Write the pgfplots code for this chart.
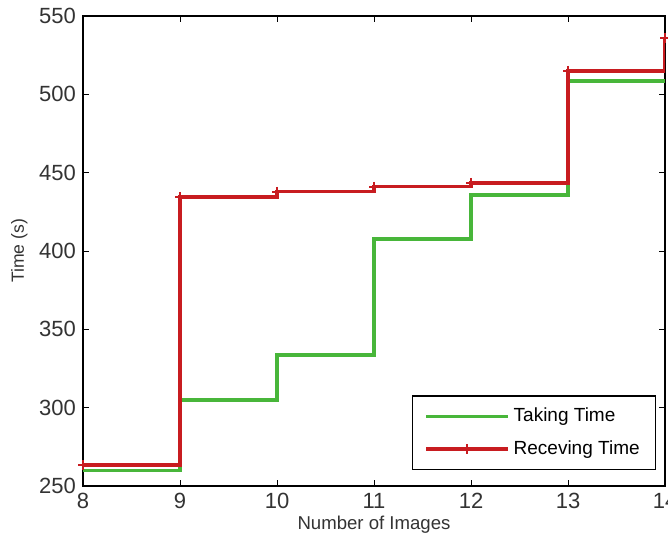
\documentclass[border=0pt]{standalone}
\usepackage{fontspec}
\setmainfont{Liberation Sans}
\usepackage{pgfplots}
\pgfplotsset{compat=1.18}

\definecolor{takegreen}{RGB}{72,182,58}
\definecolor{recvred}{RGB}{200,28,32}

\begin{document}
\begin{tikzpicture}
\begin{axis}[
    name=main,
    width=291pt, height=235pt,
    scale only axis,
    xmin=8, xmax=14, ymin=250, ymax=550,
    xtick={8,...,14},
    ytick={250,300,...,550},
    tick align=inside,
    major tick length=3pt,
    tick style={black, line width=0.5pt},
    axis line style={black, line width=0.7pt},
    /pgf/number format/assume math mode=true,
    tick label style={font=\fontsize{11}{12}\selectfont, text=black!80},
    xlabel={Number of Images},
    ylabel={Time (s)},
    xlabel style={font=\fontsize{9.3}{10}\selectfont, text=black!80, yshift=3pt},
    ylabel style={font=\fontsize{8.8}{10}\selectfont, text=black!80, yshift=-1pt},
    legend style={
        at={(0.985,0.034)}, anchor=south east,
        draw=black, line width=0.6pt,
        font=\fontsize{9.5}{11}\selectfont,
        cells={anchor=west},
        row sep=4pt,
        inner xsep=6pt, inner ysep=4pt,
    },
    legend image code/.code={
        \draw[mark repeat=2,mark phase=2,#1]
            plot coordinates {(0cm,0cm) (0.72cm,0cm) (1.44cm,0cm)};
    },
]
\addplot[const plot, takegreen, line width=1.7pt, mark=none]
    coordinates {(8,260) (9,305) (10,333.6) (11,407.6) (12,435.7) (13,508.6) (14,508.6)};
\addplot[const plot, recvred, line width=1.7pt, mark=+, mark size=2.5pt,
         mark options={line width=0.8pt}]
    coordinates {(8,263.4) (9,434.6) (10,437.8) (11,441) (12,443.5) (13,515) (14,536)};
\legend{Taking Time, Receving Time}
\end{axis}
\pgfresetboundingbox
\path[use as bounding box] ([shift={(-41.5pt,-27.5pt)}]main.south west)
    rectangle ([shift={(1.5pt,8pt)}]main.north east);
\end{tikzpicture}
\end{document}
